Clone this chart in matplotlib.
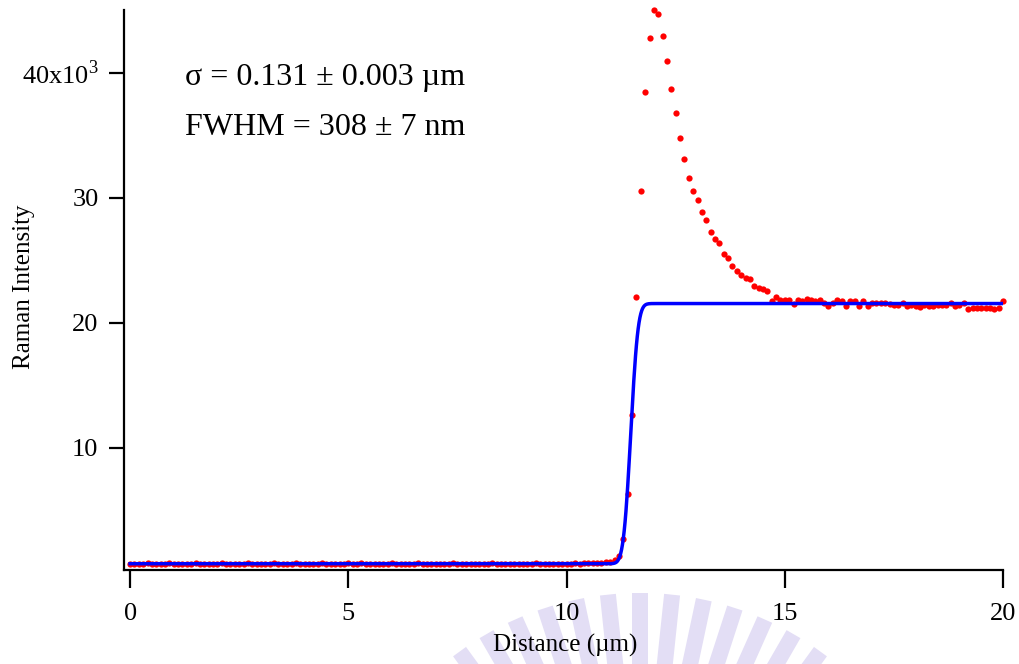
import math
import numpy as np
import matplotlib
matplotlib.use("Agg")
import matplotlib.pyplot as plt
from matplotlib.patches import Polygon

plt.rcParams['font.family'] = ['Liberation Serif', 'DejaVu Serif']
plt.rcParams['mathtext.fontset'] = 'custom'
plt.rcParams['mathtext.rm'] = 'Liberation Serif'

# measured profile, 0.1 um steps from 0 to 20 um (intensity in units of 1e3)
x_start, x_step = 0.0, 0.1
intensity = [
    0.72, 0.74, 0.71, 0.73, 0.75, 0.72, 0.70, 0.74, 0.73, 0.76,
    0.72, 0.71, 0.74, 0.73, 0.72, 0.75, 0.73, 0.71, 0.74, 0.72,
    0.73, 0.76, 0.72, 0.70, 0.73, 0.74, 0.72, 0.75, 0.73, 0.71,
    0.74, 0.72, 0.73, 0.76, 0.74, 0.72, 0.71, 0.73, 0.75, 0.72,
    0.74, 0.73, 0.71, 0.72, 0.75, 0.73, 0.74, 0.72, 0.70, 0.73,
    0.75, 0.72, 0.74, 0.76, 0.73, 0.71, 0.72, 0.74, 0.73, 0.72,
    0.75, 0.73, 0.71, 0.74, 0.72, 0.73, 0.75, 0.72, 0.74, 0.71,
    0.73, 0.72, 0.74, 0.73, 0.75, 0.72, 0.71, 0.74, 0.72, 0.73,
    0.74, 0.72, 0.73, 0.75, 0.71, 0.72, 0.74, 0.73, 0.72, 0.74,
    0.73, 0.71, 0.72, 0.75, 0.73, 0.74, 0.72, 0.71, 0.73, 0.74,
    0.72, 0.73, 0.75, 0.74, 0.76, 0.78, 0.80, 0.79, 0.82, 0.86,
    0.90, 1.05, 1.37, 2.67, 6.30, 12.58, 22.09, 30.54, 38.43, 42.72,
    45.01, 44.67, 42.88, 40.88, 38.67, 36.78, 34.78, 33.10, 31.58, 30.54,
    29.82, 28.86, 28.17, 27.21, 26.71, 26.39, 25.51, 25.19, 24.55, 24.15,
    23.83, 23.61, 23.51, 22.93, 22.79, 22.71, 22.53, 21.77, 22.07, 21.80,
    21.80, 21.80, 21.50, 21.85, 21.75, 21.90, 21.80, 21.70, 21.80, 21.60,
    21.30, 21.60, 21.80, 21.70, 21.35, 21.70, 21.70, 21.35, 21.75, 21.35,
    21.55, 21.60, 21.60, 21.55, 21.50, 21.45, 21.40, 21.60, 21.30, 21.45,
    21.35, 21.25, 21.40, 21.30, 21.35, 21.40, 21.45, 21.40, 21.60, 21.35,
    21.40, 21.60, 21.10, 21.15, 21.20, 21.20, 21.15, 21.20, 21.10, 21.20,
    21.72,
]
distance = x_start + x_step * np.arange(len(intensity))

# error-function edge fit
fit_base = 0.73
fit_step = 20.80
fit_center = 11.47
fit_sigma = 0.131
fit_x = np.linspace(0, 20, 1001)
fit_y = np.array([fit_base + fit_step / 2 * (1 + math.erf((v - fit_center) / (math.sqrt(2) * fit_sigma)))
                  for v in fit_x])

y_ticks = [10, 20, 30, 40]
y_tick_labels = ['10', '20', '30', '40x10$^{3}$']
x_ticks = [0, 5, 10, 15, 20]

fig = plt.figure(figsize=(10.2, 6.64), dpi=100)
ax = fig.add_axes([0.1211, 0.1416, 0.8623, 0.8434])

ax.plot(distance, intensity, 'o', color='#ff0000', ms=4.5, mec='none', clip_on=False, zorder=2)
ax.plot(fit_x, fit_y, color='#0000ff', lw=2.5, zorder=3)

ax.set_xlim(-0.15, 20)
ax.set_ylim(0.23, 45.0)
ax.set_xticks(x_ticks)
ax.set_yticks(y_ticks)
ax.set_yticklabels(y_tick_labels)
ax.spines['top'].set_visible(False)
ax.spines['right'].set_visible(False)
for s in ['left', 'bottom']:
    ax.spines[s].set_linewidth(1.6)
ax.tick_params(axis='y', direction='out', length=11, width=1.6, labelsize=19, pad=7)
ax.tick_params(axis='x', direction='out', length=13, width=1.6, labelsize=19, pad=11)

ax.set_xlabel('Distance (\u00b5m)', fontsize=18)
ax.set_ylabel('Raman Intensity', fontsize=18)
ax.xaxis.set_label_coords(0.502, -0.134)
ax.xaxis.label.set_va('center')
ax.yaxis.set_label_coords(-0.113, 0.505)
ax.yaxis.label.set_va('center')

ax.text(0.070, 0.880, '\u03c3 = 0.131 \u00b1 0.003 \u00b5m', transform=ax.transAxes, fontsize=23, va='center')
ax.text(0.070, 0.791, 'FWHM = 308 \u00b1 7 nm', transform=ax.transAxes, fontsize=23, va='center')

# faint watermark below the plot
W, H = 1020.0, 664.0
cx, cy = 640.0, 900.0
r_in, r_out = 230.0, 307.0
half_w = 8.0
for ang in np.arange(-36, 37, 6.0):
    a = np.radians(ang)
    ux, uy = np.sin(a), -np.cos(a)
    px, py = np.cos(a), np.sin(a)
    pts = []
    for r, sgn in [(r_in, -1), (r_out, -1), (r_out, 1), (r_in, 1)]:
        X = cx + r * ux + sgn * half_w * px
        Y = cy + r * uy + sgn * half_w * py
        pts.append((X / W, 1 - Y / H))
    fig.add_artist(Polygon(pts, closed=True, transform=fig.transFigure,
                           facecolor='#e3def5', edgecolor='none', zorder=0))

fig.savefig('out.png', dpi=100)
